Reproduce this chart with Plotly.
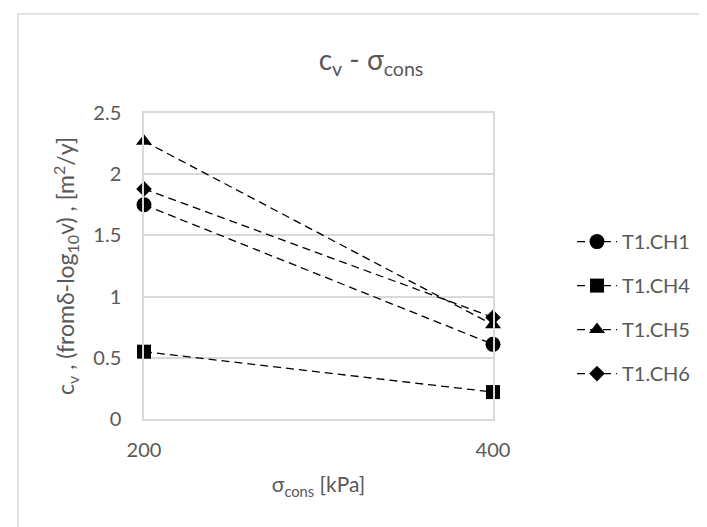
import plotly.graph_objects as go

x_vals = [200, 400]
names = ["T1.CH1", "T1.CH4", "T1.CH5", "T1.CH6"]
ch1 = [1.75, 0.61]
ch4 = [0.55, 0.22]
ch5 = [2.27, 0.77]
ch6 = [1.88, 0.83]
series = [ch1, ch4, ch5, ch6]
symbols = ["circle", "square", "triangle-up", "diamond"]
sizes = [15, 14, 14, 12]
y_ticks = [0, 0.5, 1, 1.5, 2, 2.5]
y_tick_text = ["0", "0.5", "1", "1.5", "2", "2.5"]

FONT = "Lato"
GRAY = "#595959"
GRID = "#d9d9d9"

fig = go.Figure()
for i, (nm, ys) in enumerate(zip(names, series)):
    fig.add_trace(go.Scatter(
        x=x_vals, y=ys, name=nm, mode="lines+markers",
        line=dict(color="black", width=1.3, dash="8px,5px"),
        marker=dict(symbol=symbols[i], size=sizes[i], color="black"),
        cliponaxis=False, legendgroup=nm,
    ))

L, T = 136, 105
W, H = 707, 527
pw, ph = 485 - 136, 410.7 - 105

fig.update_layout(
    width=W, height=H,
    margin=dict(l=L, r=W - 485, t=T, b=H - 410.7),
    paper_bgcolor="white", plot_bgcolor="white",
    font=dict(family=FONT, color=GRAY, size=20),
    title=dict(text="c<sub>v</sub> - σ<sub>cons</sub>", x=363 / W, xanchor="center",
               y=1 - 52 / H, yanchor="middle", font=dict(size=28, color=GRAY, family=FONT)),
    xaxis=dict(range=[200, 400], tickvals=x_vals, ticktext=[str(v) for v in x_vals],
               showgrid=False, zeroline=False, showline=True, linecolor=GRID, linewidth=1.5,
               mirror=True, ticks="", ticklabelstandoff=12,
               title=dict(text="σ<sub>cons</sub> [kPa]", standoff=18, font=dict(size=21)),
               tickfont=dict(size=20)),
    yaxis=dict(range=[0, 2.5], tickvals=y_ticks, ticktext=y_tick_text,
               showgrid=True, gridcolor=GRID, gridwidth=1.5, zeroline=False,
               showline=True, linecolor=GRID, linewidth=1.5, mirror=True, ticks="",
               ticklabelstandoff=17,
               title=dict(text="c<sub>v</sub> , (fromδ-log<sub>10</sub>v) , [m<sup>2</sup>/y]",
                          standoff=12, font=dict(size=23)),
               tickfont=dict(size=20)),
    legend=dict(x=(564 - L) / pw, xanchor="left", y=(410.7 - 214) / ph, yanchor="top",
                font=dict(size=20, color=GRAY), tracegroupgap=15, bgcolor="rgba(0,0,0,0)",
                itemwidth=40),
    showlegend=True,
)

fig.add_shape(type="rect", xref="paper", yref="paper",
              x0=(10 - L) / pw, x1=2.5, y0=-1.5, y1=(410.7 - 6) / ph,
              line=dict(color=GRID, width=1.5), fillcolor="rgba(0,0,0,0)", layer="below")

fig.write_html("out.html")
